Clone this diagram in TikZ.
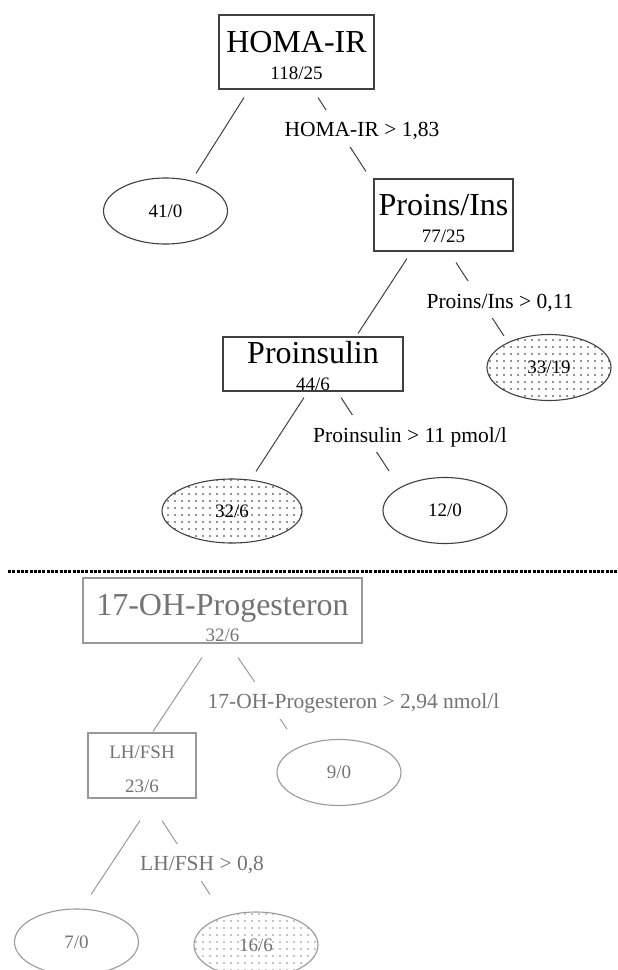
\documentclass[tikz,border=0pt]{standalone}
\usepackage{fontspec}
\setmainfont{Liberation Serif}
\usetikzlibrary{shapes.geometric, patterns}

\pgfdeclarepatternformonly{sparsedots}{\pgfqpoint{-1pt}{-1pt}}{\pgfqpoint{1pt}{1pt}}{\pgfqpoint{7pt}{7pt}}{%
  \pgfpathcircle{\pgfqpoint{0pt}{0pt}}{0.85pt}\pgfusepath{fill}}

\newcommand{\titlefont}{\fontsize{32}{26.5}\selectfont}
\newcommand{\countfont}{\fontsize{19}{26.5}\selectfont}
\newcommand{\condfont}{\fontsize{21.5}{26}\selectfont}
\newcommand{\boxtext}[3]{\rule{0pt}{#1pt}#2\\{\countfont #3}}

\begin{document}
\begin{tikzpicture}[
        x=1pt, y=-1pt,
        splitbox/.style={rectangle, draw=black!75, line width=1.1pt, inner sep=0pt, align=center, font=\titlefont},
        leaf/.style={ellipse, draw=black!75, line width=1.1pt, inner sep=0pt, minimum width=124pt, minimum height=66pt, font=\countfont},
        dotleaf/.style={leaf, pattern=sparsedots, pattern color=black!85},
        edge/.style={draw=black!75, line width=1pt},
        cond/.style={fill=white, font=\condfont, inner xsep=2pt, inner ysep=0pt, text height=27pt, text depth=10pt, anchor=base},
        faded/.style={draw=black!40, text=black!55},
        separator/.style={line width=3pt, dash pattern=on 3pt off 1.3pt}
    ]
        \useasboundingbox (0,0) rectangle (618,970);

        % Upper tree - root
        \node[splitbox, minimum width=155pt, minimum height=74pt] (homa) at (296.5,52) {\boxtext{28.5}{HOMA-IR}{118/25}};

        % Second level
        \node[leaf] (leafA) at (165.5,211) {41/0};
        \node[splitbox, minimum width=139pt, minimum height=72pt] (proins) at (443.5,215) {\boxtext{28.5}{Proins/Ins}{77/25}};

        % Third level
        \node[splitbox, minimum width=180pt, minimum height=54pt] (proinsulin) at (313,364) {\boxtext{26.5}{Proinsulin}{44/6}};
        \node[dotleaf] (leafB) at (549,367.5) {33/19};

        % Fourth level
        \node[dotleaf, minimum width=140pt, minimum height=64pt] (leafC) at (232,511) {32/6};
        \node[leaf] (leafD) at (445,510.5) {12/0};

        % Upper splits
        \draw[edge] ([xshift=-52.5pt,yshift=-8pt]homa.south) -- ([xshift=30.5pt,yshift=4pt]leafA.north);
        \draw[edge] ([xshift=21.5pt,yshift=-8pt]homa.south) -- node[cond, pos=.533, xshift=18.4pt] {HOMA-IR > 1,83} ([xshift=-77.5pt,yshift=7pt]proins.north);
        \draw[edge] ([xshift=-36.5pt,yshift=-7pt]proins.south) -- ([xshift=45pt,yshift=3pt]proinsulin.north);
        \draw[edge] ([xshift=12.5pt,yshift=-11pt]proins.south) -- node[cond, pos=.622, xshift=14.2pt] {Proins/Ins > 0,11} ([xshift=-45pt,yshift=-2pt]leafB.north);
        \draw[edge] ([xshift=-9pt,yshift=-6pt]proinsulin.south) -- ([xshift=24pt,yshift=7pt]leafC.north);
        \draw[edge] ([xshift=28pt,yshift=-6pt]proinsulin.south) -- node[cond, pos=.608, xshift=39.8pt] {Proinsulin > 11 pmol/l} ([xshift=-56pt,yshift=6pt]leafD.north);

        % Divider
        \draw[separator] (8,571.5) -- (618,571.5);

        % Lower tree - root
        \node[splitbox, faded, minimum width=279pt, minimum height=65pt] (ohp) at (222.5,610.5) {\boxtext{35.8}{17-OH-Progesteron}{32/6}};

        % Second level
        \node[splitbox, faded, font=\countfont, minimum width=108pt, minimum height=65pt] (lhfsh) at (142,765.5) {\rule{0pt}{21pt}LH/FSH\\[7.5pt]23/6};
        \node[leaf, faded] (leafE) at (339,772.5) {9/0};

        % Third level
        \node[leaf, faded] (leafF) at (76.5,942) {7/0};
        \node[dotleaf, faded, pattern color=black!45] (leafG) at (256,945) {16/6};

        % Lower splits
        \draw[edge, faded] ([xshift=-20.5pt,yshift=-14pt]ohp.south) -- ([xshift=11pt,yshift=1pt]lhfsh.north);
        \draw[edge, faded] ([xshift=15.5pt,yshift=-14pt]ohp.south) -- node[cond, text=black!55, pos=.719, xshift=80.3pt] {17-OH-Progesteron > 2,94 nmol/l} ([xshift=-52pt,yshift=10pt]leafE.north);
        \draw[edge, faded] ([xshift=-2pt,yshift=-22pt]lhfsh.south) -- ([xshift=14.5pt,yshift=14pt]leafF.north);
        \draw[edge, faded] ([xshift=20pt,yshift=-22pt]lhfsh.south) -- node[cond, text=black!55, pos=.68, xshift=7.4pt] {LH/FSH > 0,8} ([xshift=-46pt,yshift=17pt]leafG.north);
    \end{tikzpicture}
\end{document}
